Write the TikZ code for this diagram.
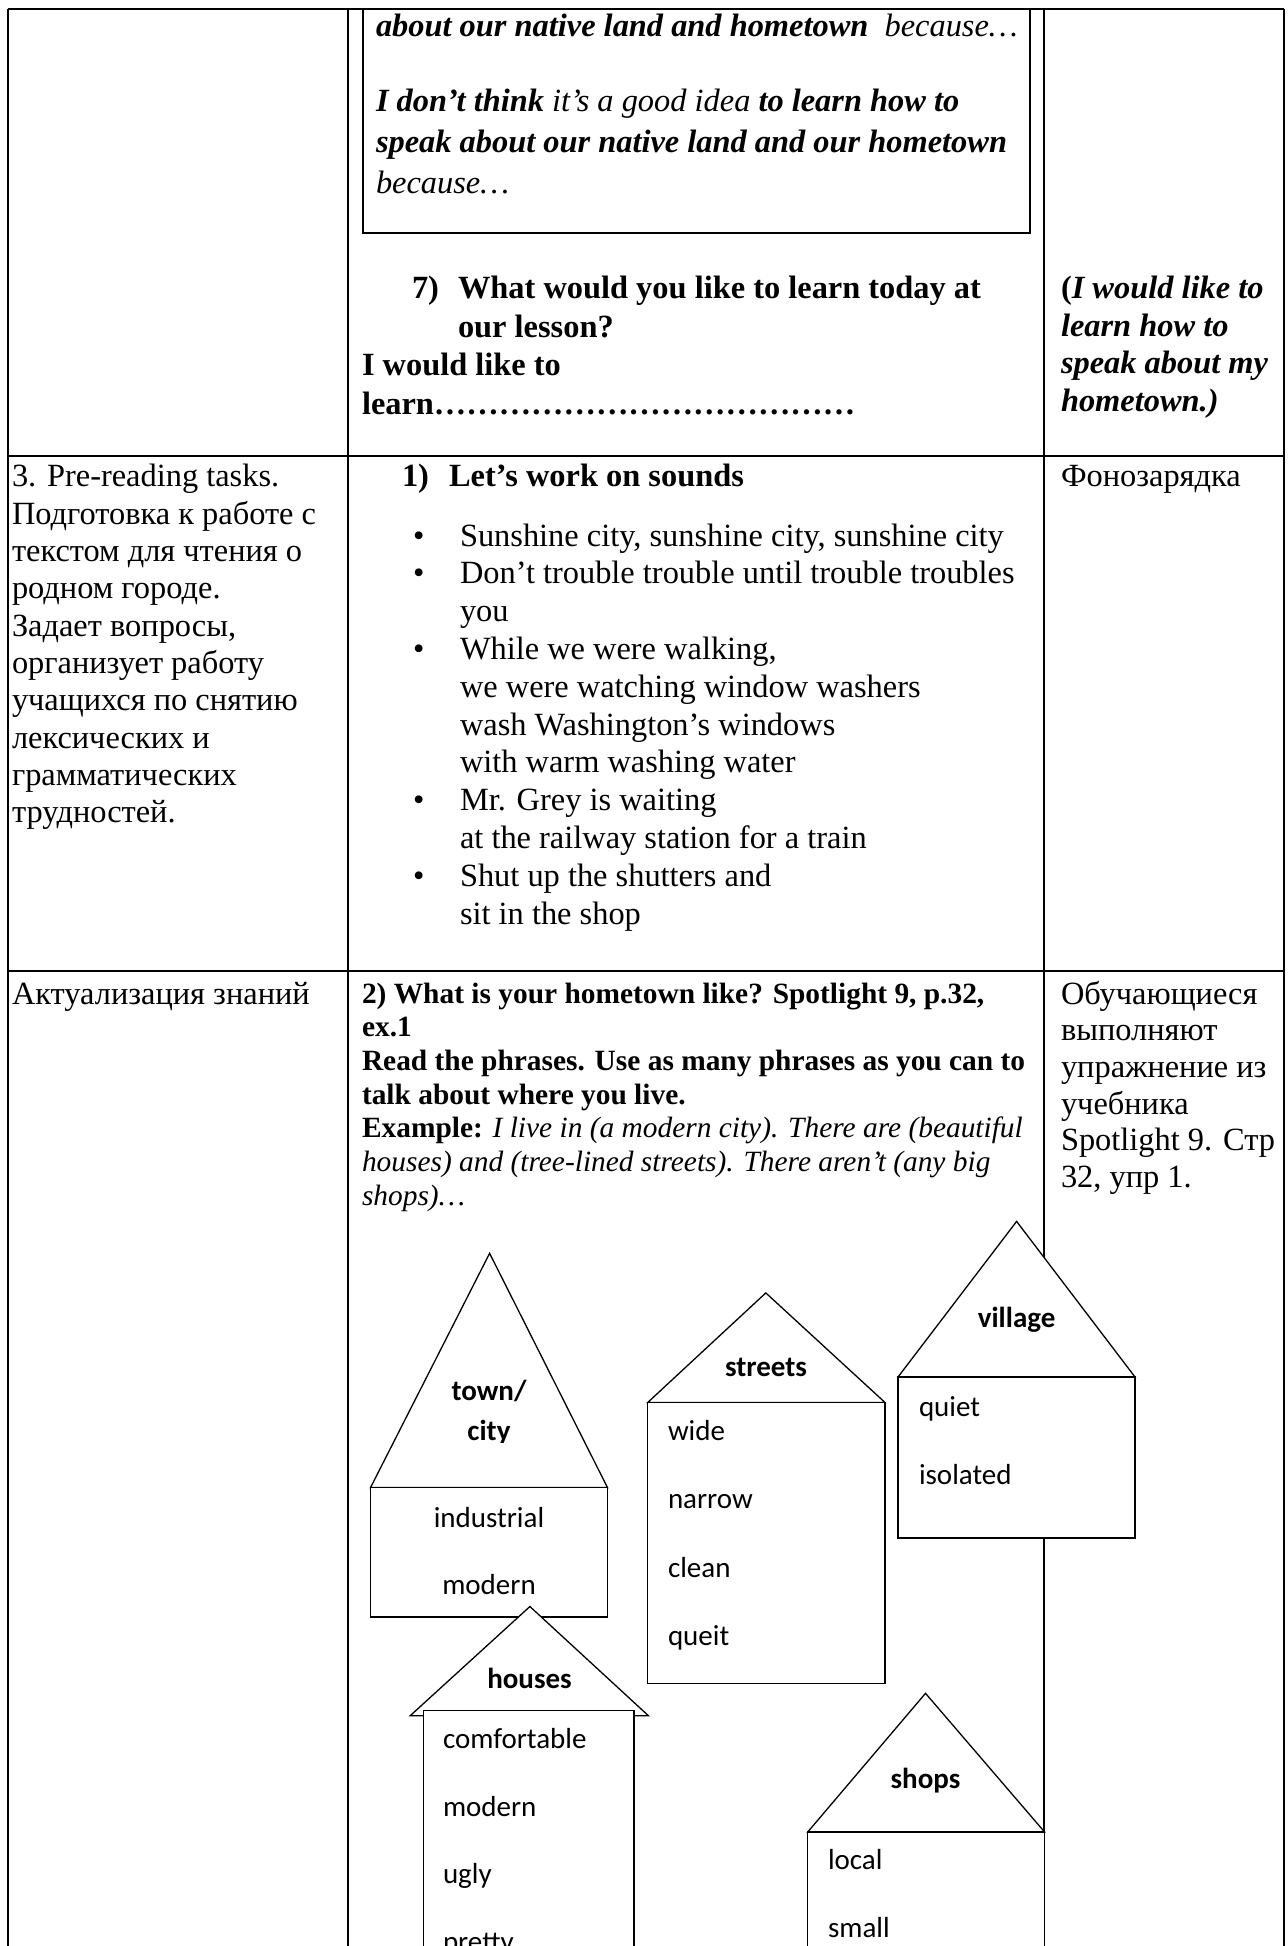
\documentclass[tikz,border=0pt]{standalone}
\usepackage{fontspec}
\setmainfont{Liberation Serif}
\newfontfamily\calfont{Carlito}
\begin{document}
\begin{tikzpicture}[x=0.5pt,y=-0.5pt,
  tline/.style={line width=1pt},
  hline/.style={line width=0.65pt, fill=white},
  tx/.style={anchor=base west, inner sep=0pt, outer sep=0pt, font=\fontsize{16.2}{19}\selectfont},
  sx/.style={anchor=base west, inner sep=0pt, outer sep=0pt, font=\fontsize{14.7}{17}\selectfont},
  hx/.style={anchor=base, inner sep=0pt, outer sep=0pt, font=\calfont\bfseries\fontsize{14.5}{17}\selectfont},
  lx/.style={anchor=base west, inner sep=0pt, outer sep=0pt, font=\calfont\fontsize{14.5}{17}\selectfont},
  cx/.style={anchor=base, inner sep=0pt, outer sep=0pt, font=\calfont\fontsize{14.5}{17}\selectfont},
]
\useasboundingbox (0,0) rectangle (1288,1946);
\clip (0,0) rectangle (1288,1946);
\fill[white] (0,0) rectangle (1288,1946);

% table grid
\draw[tline] (8,9) -- (1284,9);
\draw[tline] (8,9) -- (8,1946);
\draw[tline] (1284,9) -- (1284,1946);
\draw[tline] (348,9) -- (348,1946);
\draw[tline] (1044,9) -- (1044,1946);
\draw[tline] (8,456) -- (1284,456);
\draw[tline] (8,971) -- (1284,971);
% inner framed box
\draw[tline] (363,9) -- (363,233) -- (1030,233) -- (1030,9);

% row 1, column 2
\node[tx] (b1) at (376,37) {\textbf{\textit{about our native land and hometown}}\textit{\ \ because…}};
\node[tx] (b2) at (376,112) {\textbf{\textit{I don’t think}} \textit{it’s a good idea} \textbf{\textit{to learn how to}}};
\node[tx] (b3) at (376,153) {\textbf{\textit{speak about our native land and our hometown}}};
\node[tx] (b4) at (376,194) {\textit{because…}};
\node[tx] (q7n) at (412,299) {\textbf{7)}};
\node[tx] (q7a) at (458,299) {\textbf{What would you like to learn today at}};
\node[tx] (q7b) at (458,337.5) {\textbf{our lesson?}};
\node[tx] (q7c) at (362,376) {\textbf{I would like to}};
\node[tx] (q7d) at (362,414.5) {\textbf{learn…………………………………}};
% row 1, column 3
\node[tx] (r1) at (1061,299) {\textbf{(}\textbf{\textit{I would like to}}};
\node[tx] (r2) at (1061,336.5) {\textbf{\textit{learn how to}}};
\node[tx] (r3) at (1061,374) {\textbf{\textit{speak about my}}};
\node[tx] (r4) at (1061,411.5) {\textbf{\textit{hometown.)}}};

% row 2, column 1
\node[tx] (p1) at (12,487) {3. Pre-reading tasks.};
\node[tx] (p2) at (12,524.3) {Подготовка к работе с};
\node[tx] (p3) at (12,561.6) {текстом для чтения о};
\node[tx] (p4) at (12,598.9) {родном городе.};
\node[tx] (p5) at (12,636.2) {Задает вопросы,};
\node[tx] (p6) at (12,673.5) {организует работу};
\node[tx] (p7) at (12,710.8) {учащихся по снятию};
\node[tx] (p8) at (12,748.1) {лексических и};
\node[tx] (p9) at (12,785.4) {грамматических};
\node[tx] (p10) at (12,822.7) {трудностей.};
% row 2, column 2
\node[tx] (s0n) at (402,487) {\textbf{1)}};
\node[tx] (s0) at (449,487) {\textbf{Let’s work on sounds}};
\node[tx] (bu1) at (413,546) {•};
\node[tx] (bu2) at (413,583.8) {•};
\node[tx] (bu3) at (413,659.4) {•};
\node[tx] (bu4) at (413,810.6) {•};
\node[tx] (bu5) at (413,886.2) {•};
\node[tx] (s1) at (460,546) {Sunshine city, sunshine city, sunshine city};
\node[tx] (s2) at (460,583.8) {Don’t trouble trouble until trouble troubles};
\node[tx] (s3) at (460,621.6) {you};
\node[tx] (s4) at (460,659.4) {While we were walking,};
\node[tx] (s5) at (460,697.2) {we were watching window washers};
\node[tx] (s6) at (460,735) {wash Washington’s windows};
\node[tx] (s7) at (460,772.8) {with warm washing water};
\node[tx] (s8) at (460,810.6) {Mr. Grey is waiting};
\node[tx] (s9) at (460,848.4) {at the railway station for a train};
\node[tx] (s10) at (460,886.2) {Shut up the shutters and};
\node[tx] (s11) at (460,924) {sit in the shop};
% row 2, column 3
\node[tx] (f1) at (1061,487) {Фонозарядка};

% row 3, column 1
\node[tx] (a1) at (12,1004) {Актуализация знаний};
% row 3, column 2
\node[sx] (e1) at (362,1003) {\textbf{2) What is your hometown like? Spotlight 9, p.32,}};
\node[sx] (e2) at (362,1036.7) {\textbf{ex.1}};
\node[sx] (e3) at (362,1070.4) {\textbf{Read the phrases. Use as many phrases as you can to}};
\node[sx] (e4) at (362,1104.1) {\textbf{talk about where you live.}};
\node[sx] (e5) at (362,1137.8) {\textbf{Example:} \textit{I live in (a modern city). There are (beautiful}};
\node[sx] (e6) at (362,1171.5) {\textit{houses) and (tree-lined streets). There aren’t (any big}};
\node[sx] (e7) at (362,1205.2) {\textit{shops)…}};
% row 3, column 3
\node[tx] (o1) at (1061,1004) {Обучающиеся};
\node[tx] (o2) at (1061,1040.7) {выполняют};
\node[tx] (o3) at (1061,1077.4) {упражнение из};
\node[tx] (o4) at (1061,1114.1) {учебника};
\node[tx] (o5) at (1061,1150.8) {Spotlight 9. Стр};
\node[tx] (o6) at (1061,1187.5) {32, упр 1.};

% houses
% town/city
\draw[hline] (370.5,1487.6) -- (489.6,1253.3) -- (607.5,1487.6) -- cycle;
\draw[hline] (370.5,1487.6) rectangle (607.5,1617.1);
\node[hx] (tc1) at (489,1400) {town/};
\begin{scope}
\clip (440,1405) rectangle (540,1442);
\node[hx] (tc2) at (489,1440) {city};
\end{scope}
\node[cx] (tc3) at (489,1527.6) {industrial};
\node[cx] (tc4) at (489,1594) {modern};
% streets
\draw[hline] (647.8,1402.4) -- (765.8,1292.9) -- (884.9,1402.4) -- cycle;
\draw[hline] (647.8,1402.4) rectangle (884.9,1683.3);
\node[hx] (st0) at (766,1376) {streets};
\node[lx] (st1) at (668,1440.5) {wide};
\node[lx] (st2) at (668,1508.5) {narrow};
\node[lx] (st3) at (668,1577) {clean};
\node[lx] (st4) at (668,1645) {queit};
% village
\draw[hline] (898,1377) -- (1016.6,1221.4) -- (1135,1377) -- cycle;
\draw[hline] (898,1377) rectangle (1135,1538);
\node[hx] (vi0) at (1016.6,1327.6) {village};
\node[lx] (vi1) at (919,1416.7) {quiet};
\node[lx] (vi2) at (919,1484) {isolated};
% houses
\draw[hline] (410.2,1715.7) -- (529.9,1606.5) -- (648.4,1715.7) -- cycle;
\draw[hline] (423.4,1710.5) rectangle (634,1990);
\node[hx] (ho0) at (529.5,1688) {houses};
\node[lx] (ho1) at (443,1748) {comfortable};
\node[lx] (ho2) at (443,1816) {modern};
\node[lx] (ho3) at (443,1883.5) {ugly};
\node[lx] (ho4) at (443,1951) {pretty};
% shops
\draw[hline] (807.8,1831.9) -- (925.5,1693.3) -- (1044.5,1831.9) -- cycle;
\draw[hline] (807.8,1831.9) rectangle (1044.5,1990);
\node[hx] (sh0) at (925.5,1788) {shops};
\node[lx] (sh1) at (828,1869) {local};
\node[lx] (sh2) at (828,1937) {small};
\end{tikzpicture}
\end{document}
